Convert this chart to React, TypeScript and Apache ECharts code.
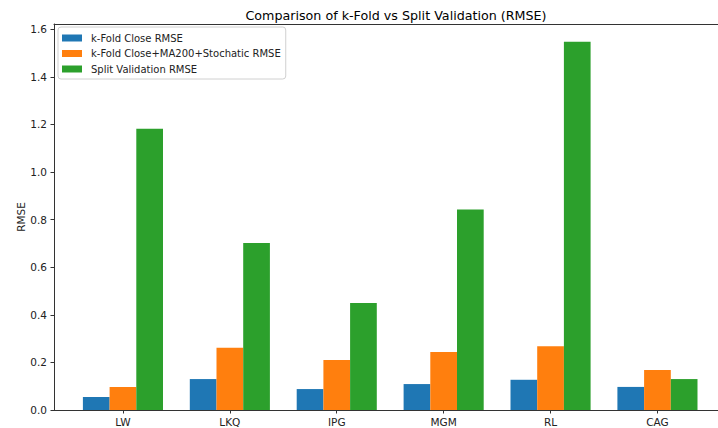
import React, { useEffect, useRef } from "react";
import * as echarts from "echarts";

const categories = ["LW", "LKQ", "IPG", "MGM", "RL", "CAG"];
const kFoldClose = [0.055, 0.13, 0.088, 0.109, 0.127, 0.097];
const kFoldMA = [0.097, 0.262, 0.21, 0.244, 0.268, 0.168];
const splitValidation = [1.182, 0.702, 0.45, 0.843, 1.547, 0.13];
const seriesNames = [
  "k-Fold Close RMSE",
  "k-Fold Close+MA200+Stochatic RMSE",
  "Split Validation RMSE",
];
const colors = ["#1f77b4", "#ff7f0e", "#2ca02c"];
const yMax = 1.622;

const FONT = "DejaVu Sans";

export default function App() {
  const ref = useRef<HTMLDivElement>(null);
  useEffect(() => {
    document.body.style.margin = "0";
    const chart = echarts.init(ref.current!, null, { renderer: "svg" });
    const axisColor = "#333";
    const option: any = {
      animation: false,
      backgroundColor: "#fff",
      textStyle: { fontFamily: FONT },
      title: {
        text: "Comparison of k-Fold vs Split Validation (RMSE)",
        left: 391,
        textAlign: "center",
        top: 4,
        textStyle: { fontFamily: FONT, fontSize: 12.7, fontWeight: "normal", color: "#000" },
      },
      legend: {
        orient: "vertical",
        left: 58,
        top: 27,
        padding: [5, 5, 4, 4],
        itemGap: 3.5,
        itemWidth: 20,
        itemHeight: 7,
        borderColor: "#d0d0d0",
        borderWidth: 1,
        borderRadius: 3,
        backgroundColor: "rgba(255,255,255,0.8)",
        icon: "rect",
        textStyle: { fontFamily: FONT, fontSize: 10, color: "#222", lineHeight: 12, padding: [0, 0, 0, 4] },
        data: seriesNames,
      },
      grid: [
        { left: 54, top: 24, width: 700, bottom: 18 },
        { left: 69.5, top: 24, width: 641.4, bottom: 18 },
      ],
      xAxis: [
        {
          gridIndex: 0,
          type: "value",
          position: "bottom",
          min: 0,
          max: 1,
          axisLine: { show: true, lineStyle: { color: axisColor, width: 1 } },
          axisTick: { show: false },
          axisLabel: { show: false },
          splitLine: { show: false },
        },
        {
          gridIndex: 0,
          type: "value",
          position: "top",
          min: 0,
          max: 1,
          axisLine: { show: true, onZero: false, lineStyle: { color: axisColor, width: 1 } },
          axisTick: { show: false },
          axisLabel: { show: false },
          splitLine: { show: false },
        },
        {
          gridIndex: 1,
          type: "category",
          data: categories,
          boundaryGap: true,
          axisLine: { show: false },
          axisTick: { show: true, alignWithLabel: true, length: 3.5, lineStyle: { color: axisColor } },
          axisLabel: { fontFamily: FONT, fontSize: 10.5, color: "#222", margin: 6 },
          splitLine: { show: false },
        },
      ],
      yAxis: [
        {
          gridIndex: 0,
          type: "value",
          min: 0,
          max: yMax,
          interval: 0.2,
          name: "RMSE",
          nameLocation: "middle",
          nameRotate: 90,
          nameGap: 28,
          nameMoveOverlap: false,
          nameTextStyle: { fontFamily: FONT, fontSize: 10.5, color: "#222" },
          axisLine: { show: true, lineStyle: { color: axisColor, width: 1 } },
          axisTick: { show: true, length: 3.5, lineStyle: { color: axisColor } },
          axisLabel: {
            fontFamily: FONT,
            fontSize: 10.5,
            color: "#222",
            margin: 7,
            showMaxLabel: false,
            formatter: (v: number) => {
              const r = Math.round(v / 0.2) * 0.2;
              return Math.abs(r - v) < 1e-6 ? v.toFixed(1) : "";
            },
          },
          splitLine: { show: false },
        },
        {
          gridIndex: 1,
          type: "value",
          min: 0,
          max: yMax,
          show: false,
        },
      ],
      series: [kFoldClose, kFoldMA, splitValidation].map((d, i) => ({
        name: seriesNames[i],
        type: "bar",
        xAxisIndex: 2,
        yAxisIndex: 1,
        data: d,
        barWidth: 26.7,
        barGap: "0%",
        itemStyle: { color: colors[i] },
      })),
    };
    chart.setOption(option);
    return () => chart.dispose();
  }, []);
  return <div ref={ref} style={{ width: 718, height: 428 }} />;
}
